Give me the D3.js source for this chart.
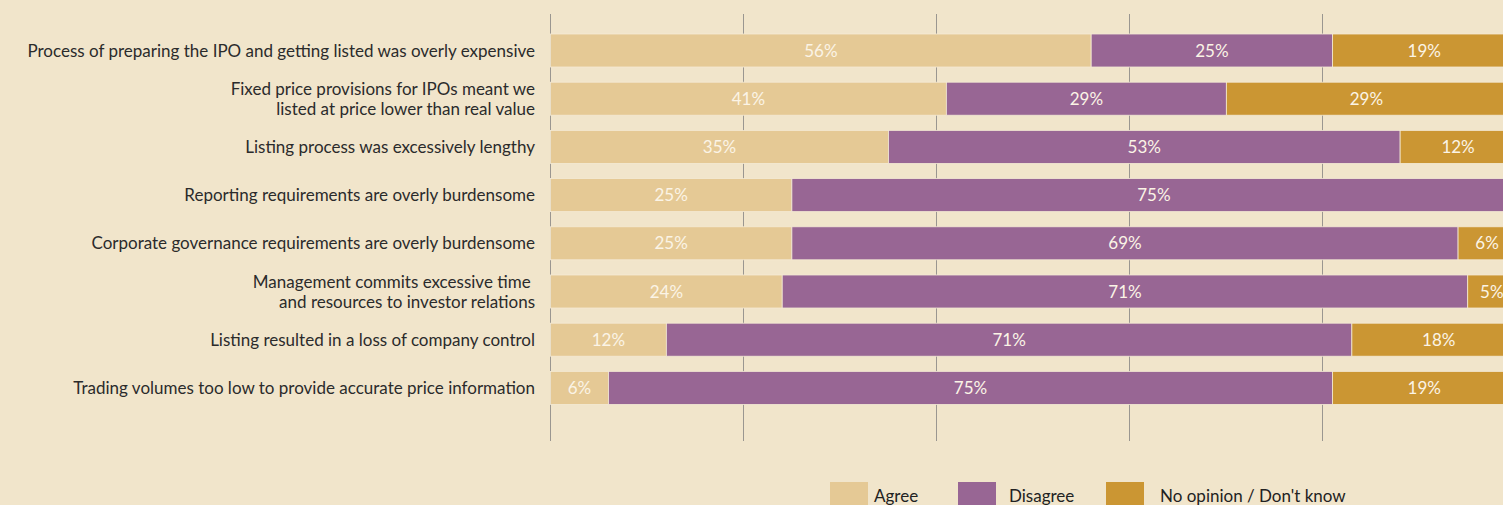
<!DOCTYPE html>
<html>
<head>
<meta charset="utf-8">
<script src="https://cdn.jsdelivr.net/npm/d3@7"></script>
<style>
  html, body { margin: 0; padding: 0; background: #f1e5cb; }
  svg { display: block; font-family: Lato, "Noto Sans", sans-serif; }
  .cat tspan { white-space: pre; }
</style>
</head>
<body>
<svg id="chart" width="1503" height="505"></svg>
<script>
// Survey statements (line breaks mark wrapped labels)
const categories = [
  "Process of preparing the IPO and getting listed was overly expensive",
  "Fixed price provisions for IPOs meant we\nlisted at price lower than real value",
  "Listing process was excessively lengthy",
  "Reporting requirements are overly burdensome",
  "Corporate governance requirements are overly burdensome",
  "Management commits excessive time \nand resources to investor relations",
  "Listing resulted in a loss of company control",
  "Trading volumes too low to provide accurate price information"
];
const agree     = [56, 41, 35, 25, 25, 24, 12, 6];
const disagree  = [25, 29, 53, 75, 69, 71, 71, 75];
const noOpinion = [19, 29, 12, 0, 6, 5, 18, 19];
const seriesNames = ["Agree", "Disagree", "No opinion / Don't know"];
const gridTicks = [0, 20, 40, 60, 80, 100];

const colors = ["#e5c995", "#986694", "#cb9633"];

const svg = d3.select("#chart");

const x = d3.scaleLinear().domain([0, 100]).range([550.5, 1516]);
const y = d3.scaleBand().domain(categories)
  .range([26.4, 26.4 + 8 * 48.2])
  .paddingInner(0.315).paddingOuter(0.1575);

// vertical gridlines
svg.append("g").selectAll("line").data(gridTicks).join("line")
  .attr("x1", d => Math.floor(x(d)) + 0.5).attr("x2", d => Math.floor(x(d)) + 0.5)
  .attr("y1", 14).attr("y2", 441)
  .attr("stroke", "#9a9690").attr("stroke-width", 1);

// stacked data
const rows = categories.map((c, i) => ({ cat: c, Agree: agree[i], Disagree: disagree[i], "No opinion / Don't know": noOpinion[i] }));
const stacked = d3.stack().keys(seriesNames)(rows);

const layers = svg.append("g").selectAll("g").data(stacked).join("g")
  .attr("fill", (d, i) => colors[i]);

layers.selectAll("rect").data(d => d.filter(s => s[1] - s[0] > 0)).join("rect")
  .attr("x", d => x(d[0]))
  .attr("y", d => y(d.data.cat))
  .attr("width", d => x(d[1]) - x(d[0]))
  .attr("height", y.bandwidth())
  .attr("stroke", "#f4ead5").attr("stroke-width", 0.8);

// value labels
layers.selectAll("text").data(d => d.filter(s => s[1] - s[0] > 0)).join("text")
  .attr("x", d => (x(d[0]) + x(d[1])) / 2)
  .attr("y", d => y(d.data.cat) + y.bandwidth() / 2)
  .attr("dy", "0.36em")
  .attr("text-anchor", "middle")
  .attr("fill", "#fbf4e6")
  .attr("font-size", 17)
  .text(d => (d[1] - d[0]) + "%");

// category labels
const lab = svg.append("g").attr("class", "cat").selectAll("text").data(categories).join("text")
  .attr("x", 535)
  .attr("y", d => y(d) + y.bandwidth() / 2)
  .attr("text-anchor", "end")
  .attr("fill", "#2b2b2b")
  .attr("font-size", 17);
lab.each(function(d) {
  const lines = d.split("\n");
  const t = d3.select(this);
  lines.forEach((ln, k) => {
    t.append("tspan")
      .attr("x", 535)
      .attr("dy", k === 0 ? (0.36 - (lines.length - 1) * 0.59) + "em" : "1.18em")
      .text(ln);
  });
});

// legend
const legendX = [830, 958, 1106];
const lg = svg.append("g").selectAll("g").data(seriesNames).join("g")
  .attr("transform", (d, i) => `translate(${legendX[i]},482)`);
lg.append("rect").attr("width", 38).attr("height", 30).attr("fill", (d, i) => colors[i]);
lg.append("text")
  .attr("x", (d, i) => [44, 51, 54][i])
  .attr("y", 20)
  .attr("fill", "#222")
  .attr("font-size", 17)
  .text(d => d);
</script>
</body>
</html>
